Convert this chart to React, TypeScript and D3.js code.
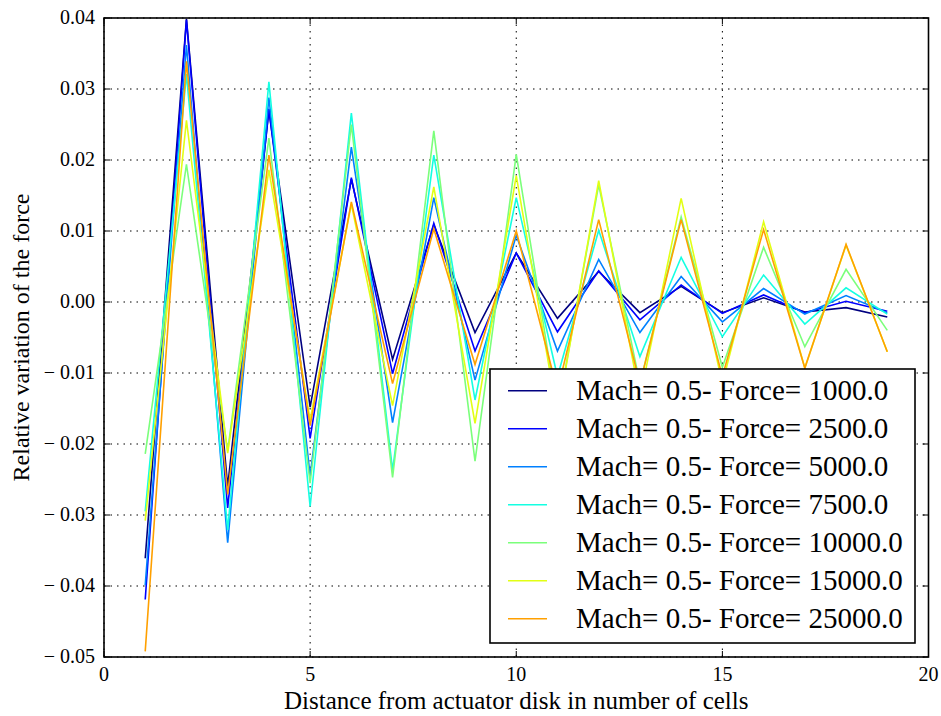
import React from "react";
import { scaleLinear, line } from "d3";

const cells = [1, 2, 3, 4, 5, 6, 7, 8, 9, 10, 11, 12, 13, 14, 15, 16, 17, 18, 19];

const force1000 = [-0.0361, 0.0399, -0.026, 0.027, -0.0148, 0.0173, -0.0081, 0.0109, -0.0043, 0.0069, -0.0023, 0.0043, -0.0015, 0.0022, -0.0015, 0.0006, -0.0014, -0.0008, -0.0021];
const force2500 = [-0.0419, 0.0397, -0.029, 0.0272, -0.0192, 0.0175, -0.0101, 0.0111, -0.0069, 0.0069, -0.0042, 0.0044, -0.0025, 0.0024, -0.0016, 0.001, -0.0015, 0.0001, -0.0013];
const force5000 = [-0.0399, 0.0362, -0.0339, 0.0288, -0.0245, 0.0218, -0.017, 0.0147, -0.011, 0.0094, -0.0069, 0.006, -0.0043, 0.0036, -0.0028, 0.0019, -0.0017, 0.0009, -0.0015];
const force7500 = [-0.0295, 0.0321, -0.0321, 0.031, -0.0288, 0.0266, -0.0237, 0.0207, -0.0138, 0.0147, -0.0105, 0.0101, -0.0077, 0.0063, -0.0049, 0.0038, -0.0031, 0.002, -0.0017];
const force10000 = [-0.0214, 0.0194, -0.021, 0.0231, -0.0255, 0.025, -0.0247, 0.0241, -0.0224, 0.0208, -0.0155, 0.0165, -0.0115, 0.012, -0.0092, 0.0077, -0.0063, 0.0046, -0.004];
const force15000 = [-0.0308, 0.0256, -0.0213, 0.0186, -0.0166, 0.0138, -0.0146, 0.0162, -0.0171, 0.0178, -0.016, 0.0171, -0.0135, 0.0146, -0.0115, 0.0113, -0.0093, 0.008, -0.007];
const force25000 = [-0.0492, 0.0339, -0.0271, 0.0207, -0.0174, 0.0141, -0.0115, 0.0103, -0.0088, 0.01, -0.0125, 0.0116, -0.0115, 0.0116, -0.0105, 0.0102, -0.0093, 0.0081, -0.007];

const seriesNames = [
  "Mach= 0.5- Force= 1000.0",
  "Mach= 0.5- Force= 2500.0",
  "Mach= 0.5- Force= 5000.0",
  "Mach= 0.5- Force= 7500.0",
  "Mach= 0.5- Force= 10000.0",
  "Mach= 0.5- Force= 15000.0",
  "Mach= 0.5- Force= 25000.0",
];
const seriesValues = [force1000, force2500, force5000, force7500, force10000, force15000, force25000];
const seriesColors = ["#000080", "#0000ff", "#0080ff", "#14ffe2", "#7bff7b", "#e2ff14", "#ffa000"];

const xTicks = [0, 5, 10, 15, 20];
const yTicks = [-0.05, -0.04, -0.03, -0.02, -0.01, 0, 0.01, 0.02, 0.03, 0.04];

const serif = "'Liberation Serif', 'Times New Roman', serif";

export default function App() {
  const left = 104;
  const right = 928.5;
  const top = 18;
  const bottom = 657;

  const x = scaleLinear().domain([0, 20]).range([left, right]);
  const y = scaleLinear().domain([-0.05, 0.04]).range([bottom, top]);

  const path = line<number>()
    .x((_, i) => x(cells[i]))
    .y((d) => y(d));

  const tick = 6;
  const legend = { x: 490, y: 369, w: 425, h: 274 };

  return (
    <svg
      width={941}
      height={716}
      style={{ position: "absolute", left: 0, top: 0, background: "white" }}
    >
      <defs>
        <clipPath id="plot">
          <rect x={left} y={top} width={right - left} height={bottom - top} />
        </clipPath>
      </defs>
      <rect x={0} y={0} width={941} height={716} fill="white" />

      {/* grid */}
      <g stroke="black" strokeWidth={1} strokeDasharray="1.5,5">
        {xTicks.map((t) => (
          <line key={"gx" + t} x1={x(t)} x2={x(t)} y1={top} y2={bottom} />
        ))}
        {yTicks.map((t) => (
          <line key={"gy" + t} x1={left} x2={right} y1={y(t)} y2={y(t)} />
        ))}
      </g>

      {/* series */}
      <g clipPath="url(#plot)" fill="none" strokeWidth={1.6} strokeLinejoin="miter">
        {seriesValues.map((vals, i) => (
          <path key={i} d={path(vals) || ""} stroke={seriesColors[i]} />
        ))}
      </g>

      {/* ticks, inward on all sides */}
      <g stroke="black" strokeWidth={1}>
        {xTicks.map((t) => (
          <g key={"tx" + t}>
            <line x1={x(t)} x2={x(t)} y1={bottom} y2={bottom - tick} />
            <line x1={x(t)} x2={x(t)} y1={top} y2={top + tick} />
          </g>
        ))}
        {yTicks.map((t) => (
          <g key={"ty" + t}>
            <line x1={left} x2={left + tick} y1={y(t)} y2={y(t)} />
            <line x1={right} x2={right - tick} y1={y(t)} y2={y(t)} />
          </g>
        ))}
      </g>

      {/* legend */}
      <g>
        <rect
          x={legend.x}
          y={legend.y}
          width={legend.w}
          height={legend.h}
          fill="white"
          stroke="black"
          strokeWidth={1.6}
        />
        {seriesNames.map((name, i) => {
          const cy = 390.7 + i * 38;
          return (
            <g key={name}>
              <line x1={508} x2={547} y1={cy} y2={cy} stroke={seriesColors[i]} strokeWidth={1.6} />
              <text x={576} y={cy + 9.5} fontFamily={serif} fontSize={29} fill="black">
                {name}
              </text>
            </g>
          );
        })}
      </g>

      {/* frame */}
      <rect
        x={left}
        y={top}
        width={right - left}
        height={bottom - top}
        fill="none"
        stroke="black"
        strokeWidth={1.6}
      />

      {/* tick labels */}
      <g fontFamily={serif} fontSize={20} fill="black">
        {xTicks.map((t) => (
          <text key={"lx" + t} x={x(t)} y={bottom + 24} textAnchor="middle">
            {t}
          </text>
        ))}
        {yTicks.map((t) => (
          <text key={"ly" + t} x={left - 9} y={y(t) + 6} textAnchor="end">
            {t < -1e-9 ? <tspan>{"\u2212"}</tspan> : null}
            <tspan dx={t < -1e-9 ? 5 : 0}>{Math.abs(t).toFixed(2)}</tspan>
          </text>
        ))}
      </g>

      {/* axis labels */}
      <text
        x={(left + right) / 2}
        y={709}
        textAnchor="middle"
        fontFamily={serif}
        fontSize={25}
        fill="black"
      >
        Distance from actuator disk in number of cells
      </text>
      <text
        transform={`translate(29, ${(top + bottom) / 2}) rotate(-90)`}
        textAnchor="middle"
        fontFamily={serif}
        fontSize={24}
        fill="black"
      >
        Relative variation of the force
      </text>
    </svg>
  );
}
